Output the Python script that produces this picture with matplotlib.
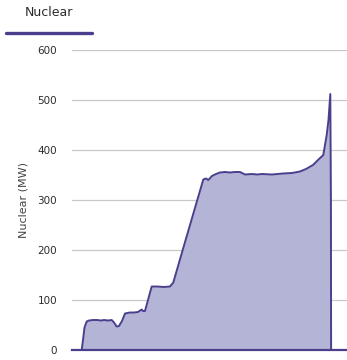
import matplotlib
matplotlib.use("Agg")
import matplotlib.pyplot as plt
from matplotlib.lines import Line2D

# Nuclear generation profile (sample index vs MW)
sample = [0, 9.7, 11, 12.5, 14.7, 17, 21, 25, 29, 32, 36, 39.7, 42, 44.7, 47,
          50, 53, 58, 62, 66, 69.7, 71, 73, 76, 79.7, 85, 92, 98, 101.3, 110.7,
          131.3, 134, 136.3, 140, 144, 148, 153, 158, 163, 168, 173, 180, 185,
          190, 200, 211, 220, 228, 234, 241, 246, 251.3, 254.7, 256.5, 258.3,
          258.9, 259.1, 275]
nuclear_mw = [0, 0, 20, 45, 57, 59, 60, 60, 59, 60, 59, 60, 55, 47, 48,
              58, 73, 75, 75, 76, 81, 78, 78, 100, 127, 127, 126, 127, 135, 200,
              341, 343, 340, 348, 352, 355, 356, 355, 356, 356, 351, 352, 351,
              352, 351, 353, 354, 357, 362, 370, 380, 390, 430, 460, 512,
              300, 0, 0]

y_ticks = [0, 100, 200, 300, 400, 500, 600]

line_color = "#4a3f8c"
fill_color = "#b4b4d7"
grid_color = "#c8c8c8"
text_color = "#2b2b2b"

fig = plt.figure(figsize=(3.47, 3.6), dpi=100)
ax = fig.add_axes([72 / 347, 10 / 360, 275 / 347, 300 / 360])

ax.fill_between(sample, nuclear_mw, 0, color=fill_color, lw=0)
ax.plot(sample, nuclear_mw, color=line_color, lw=1.4, solid_joinstyle="round")

ax.set_xlim(0, 275)
ax.set_ylim(0, 600)
ax.set_yticks(y_ticks)
ax.set_yticklabels([str(v) for v in y_ticks], fontsize=7.5, color=text_color)
ax.set_xticks([])
ax.yaxis.grid(True, color=grid_color, lw=0.9)
ax.set_axisbelow(True)
ax.tick_params(axis="y", length=0, pad=10.8)
for side in ["top", "right", "left"]:
    ax.spines[side].set_visible(False)
ax.spines["bottom"].set_color(line_color)
ax.spines["bottom"].set_linewidth(1.6)
ax.set_ylabel("Nuclear (MW)", fontsize=8, color="#444444")
ax.yaxis.set_label_coords(-0.158, 0.5)

# Tab header
fig.text(49 / 347, 1 - 12 / 360, "Nuclear", ha="center", va="center",
         fontsize=9, color=text_color)
fig.add_artist(Line2D([6 / 347, 92 / 347], [1 - 32.5 / 360, 1 - 32.5 / 360],
                      color=line_color, lw=2.4, solid_capstyle="round",
                      transform=fig.transFigure))

fig.savefig("out.png", dpi=100)
